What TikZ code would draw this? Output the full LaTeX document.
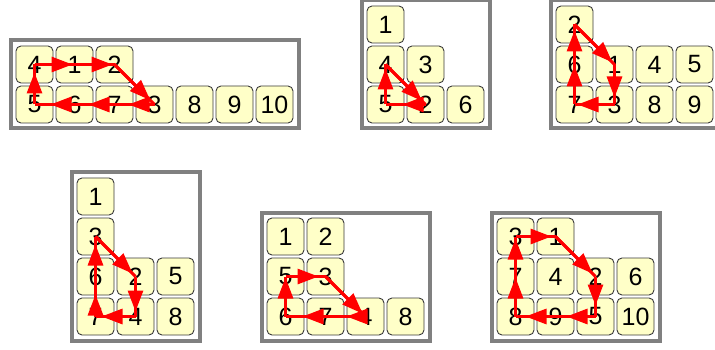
\documentclass[tikz,border=0pt]{standalone}
\usepackage{fontspec}
\setmainfont{Liberation Sans}
\usetikzlibrary{arrows.meta}
\definecolor{cellfill}{HTML}{FFFFC8}
\definecolor{cellline}{HTML}{3A3A3A}
\definecolor{framegray}{HTML}{808080}
\tikzset{
  cell/.style={draw=cellline, line width=0.9pt, fill=cellfill, rounded corners=5pt,
    minimum width=37pt, minimum height=37pt, inner sep=0pt, font=\fontsize{25}{25}\selectfont},
  panel/.style={draw=framegray, line width=4pt},
  redline/.style={draw=red, line width=3pt},
  arr/.style={draw=red, line width=3pt, -{Triangle[length=21pt,width=15pt]}},
}
% full centre-to-centre line, arrow tip set back by #3 from the target centre
\newcommand\linkarrow[3]{%
  \draw[redline] (#1.center) -- (#2.center);
  \draw[arr, shorten >=#3] (#1.center) -- (#2.center);
}
\begin{document}
\begin{tikzpicture}[x=1pt,y=-1pt]
\useasboundingbox (0,0) rectangle (715,350);
% ---------- frames ----------
\draw[panel] (10.5,40.5) rectangle (298.5,128.5);
\draw[panel] (361.5,0.5) rectangle (489.5,128.5);
\draw[panel] (550.5,0.5) rectangle (718.5,128.5);
\draw[panel] (71.5,172.5) rectangle (199.5,340.5);
\draw[panel] (261.5,212.5) rectangle (429.5,340.5);
\draw[panel] (491.5,212.5) rectangle (659.5,340.5);
% ---------- panel 1 ----------
\foreach \t [count=\i from 0] in {4,1,2}
  \node[cell] (p1-\t) at ({34.5+40*\i},64.5) {\t};
\foreach \t [count=\i from 0] in {5,6,7,3,8,9,10}
  \node[cell] (p1-\t) at ({34.5+40*\i},104.5) {\t};
% ---------- panel 2 ----------
\node[cell] (p2-1) at (385.5,24.5) {1};
\foreach \t [count=\i from 0] in {4,3}
  \node[cell] (p2-\t) at ({385.5+40*\i},64.5) {\t};
\foreach \t [count=\i from 0] in {5,2,6}
  \node[cell] (p2-\t) at ({385.5+40*\i},104.5) {\t};
% ---------- panel 3 ----------
\node[cell] (p3-2) at (574.5,24.5) {2};
\foreach \t [count=\i from 0] in {6,1,4,5}
  \node[cell] (p3-\t) at ({574.5+40*\i},64.5) {\t};
\foreach \t [count=\i from 0] in {7,3,8,9}
  \node[cell] (p3-\t) at ({574.5+40*\i},104.5) {\t};
% ---------- panel 4 ----------
\node[cell] (p4-1) at (95.5,196.5) {1};
\node[cell] (p4-3) at (95.5,236.5) {3};
\foreach \t [count=\i from 0] in {6,2,5}
  \node[cell] (p4-\t) at ({95.5+40*\i},276.5) {\t};
\foreach \t [count=\i from 0] in {7,4,8}
  \node[cell] (p4-\t) at ({95.5+40*\i},316.5) {\t};
% ---------- panel 5 ----------
\foreach \t [count=\i from 0] in {1,2}
  \node[cell] (p5-\t) at ({285.5+40*\i},236.5) {\t};
\foreach \t [count=\i from 0] in {5,3}
  \node[cell] (p5-\t) at ({285.5+40*\i},276.5) {\t};
\foreach \t [count=\i from 0] in {6,7,4,8}
  \node[cell] (p5-\t) at ({285.5+40*\i},316.5) {\t};
% ---------- panel 6 ----------
\foreach \t [count=\i from 0] in {3,1}
  \node[cell] (p6-\t) at ({515.5+40*\i},236.5) {\t};
\foreach \t [count=\i from 0] in {7,4,2,6}
  \node[cell] (p6-\t) at ({515.5+40*\i},276.5) {\t};
\foreach \t [count=\i from 0] in {8,9,5,10}
  \node[cell] (p6-\t) at ({515.5+40*\i},316.5) {\t};
% ---------- arrows ----------
% panel 1
\linkarrow{p1-4}{p1-1}{2pt}
\linkarrow{p1-1}{p1-2}{2pt}
\linkarrow{p1-2}{p1-3}{6pt}
\linkarrow{p1-3}{p1-7}{14pt}
\linkarrow{p1-7}{p1-6}{14pt}
\linkarrow{p1-6}{p1-5}{16pt}
\linkarrow{p1-5}{p1-4}{8pt}
% panel 2
\linkarrow{p2-4}{p2-2}{5pt}
\linkarrow{p2-2}{p2-5}{17pt}
\linkarrow{p2-5}{p2-4}{4pt}
% panel 3
\linkarrow{p3-2}{p3-1}{3pt}
\linkarrow{p3-1}{p3-3}{7pt}
\linkarrow{p3-3}{p3-7}{3pt}
\linkarrow{p3-7}{p3-6}{1pt}
\linkarrow{p3-6}{p3-2}{6pt}
% panel 4
\linkarrow{p4-3}{p4-2}{4pt}
\linkarrow{p4-2}{p4-4}{5pt}
\linkarrow{p4-4}{p4-7}{6pt}
\linkarrow{p4-7}{p4-6}{18pt}
\linkarrow{p4-6}{p4-3}{8pt}
% panel 5
\linkarrow{p5-5}{p5-3}{7pt}
\linkarrow{p5-3}{p5-4}{4pt}
\linkarrow{p5-4}{p5-7}{21pt}
\linkarrow{p5-7}{p5-6}{17pt}
\linkarrow{p5-6}{p5-5}{1pt}
% panel 6
\linkarrow{p6-3}{p6-1}{4pt}
\linkarrow{p6-1}{p6-2}{4pt}
\linkarrow{p6-2}{p6-5}{11pt}
\linkarrow{p6-5}{p6-9}{11pt}
\linkarrow{p6-9}{p6-8}{10pt}
\linkarrow{p6-8}{p6-7}{1pt}
\linkarrow{p6-7}{p6-3}{2pt}
\end{tikzpicture}
\end{document}
